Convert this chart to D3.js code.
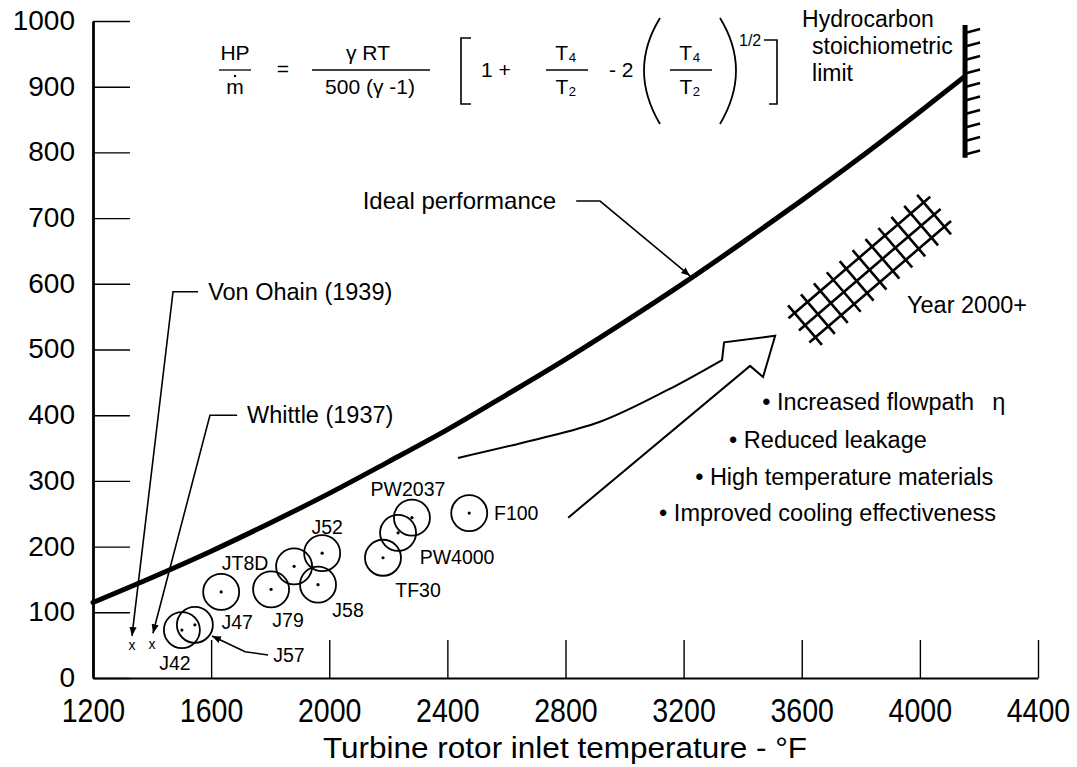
<!DOCTYPE html>
<html>
<head>
<meta charset="utf-8">
<script src="https://cdn.jsdelivr.net/npm/d3@7"></script>
<style>
body { margin: 0; background: #fff; }
svg { display: block; font-family: "Liberation Sans", Arial, Helvetica, sans-serif; }
</style>
</head>
<body>
<script>
// ideal performance curve (HP per lb/s airflow vs turbine rotor inlet temp)
const idealT = [1200, 1400, 1600, 1800, 2000, 2200, 2400, 2600, 2800, 3000, 3200, 3400, 3600, 3800, 4000, 4150];
const idealV = [115, 153, 193, 236, 281, 329, 378, 431, 485, 542, 601, 663, 727, 793, 862, 915];

// engines
const engines = ["J42", "J57", "J47", "J79", "JT8D", "J52", "J58", "TF30", "PW4000", "PW2037", "F100"];
const engT = [1501, 1545, 1634, 1803, 1881, 1976, 1962, 2182, 2233, 2280, 2474];
const engV = [73, 81, 131, 135, 170, 190, 142, 183, 221, 244, 251];

// early demonstrators (x marks)
const pioneers = ["Von Ohain (1939)", "Whittle (1937)"];
const pioT = [1332, 1400];
const pioV = [50, 52];

// hydrocarbon stoichiometric limit
const limitT = 4153;
const limitRange = [792, 994];

// year 2000+ goal band (start and end of band centre)
const goalT = [3611, 4060];
const goalV = [537, 710];

const xTicks = [1200, 1600, 2000, 2400, 2800, 3200, 3600, 4000, 4400];
const yTicks = [0, 100, 200, 300, 400, 500, 600, 700, 800, 900, 1000];

const bullets = ["Increased flowpath", "Reduced leakage", "High temperature materials", "Improved cooling effectiveness"];
const bulletT = [3466, 3354, 3239, 3117];
const bulletV = [420, 362, 306, 251];

const w = 1077, h = 767;

const x = d3.scaleLinear().domain([1200, 4400]).range([93, 1038]);
const y = d3.scaleLinear().domain([0, 1000]).range([678, 21]);

const svg = d3.select("body").append("svg")
  .attr("width", w)
  .attr("height", h);

svg.append("defs").append("marker")
  .attr("id", "ah")
  .attr("viewBox", "0 0 10 10")
  .attr("refX", 10).attr("refY", 5)
  .attr("markerWidth", 9).attr("markerHeight", 9)
  .attr("markerUnits", "userSpaceOnUse")
  .attr("orient", "auto")
  .append("path")
  .attr("d", "M0,1 L10,5 L0,9 Z")
  .attr("fill", "#000");

// axes
const xAxis = d3.axisBottom(x).tickValues(xTicks).tickFormat(d3.format("d"))
  .tickSize(-38).tickSizeOuter(0).tickPadding(20);
const gx = svg.append("g")
  .attr("transform", "translate(0," + y(0) + ")")
  .call(xAxis);
gx.select(".domain").attr("stroke-width", 2.2);
gx.selectAll(".tick line").attr("stroke-width", 1.4);
// condensed look of the original lettering
gx.selectAll(".tick text")
  .attr("font-size", 34)
  .attr("transform", "scale(0.84,1)")
  .attr("fill", "#000");

const yAxis = d3.axisLeft(y).tickValues(yTicks).tickFormat(d3.format("d"))
  .tickSize(-37).tickSizeOuter(0).tickPadding(18);
const gy = svg.append("g")
  .attr("transform", "translate(" + x(1200) + ",0)")
  .call(yAxis);
gy.select(".domain").attr("stroke-width", 2.8);
gy.selectAll(".tick line").attr("stroke-width", 1.4);
gy.selectAll(".tick text")
  .attr("font-size", 28)
  .attr("dy", "0.3em")
  .attr("fill", "#000");

svg.append("g")
  .attr("transform", "translate(565,758) scale(1.05,1)")
  .append("text")
  .attr("text-anchor", "middle")
  .attr("font-size", 30)
  .text("Turbine rotor inlet temperature - \u00b0F");

// ideal curve
const line = d3.line()
  .x((d, i) => x(idealT[i]))
  .y((d, i) => y(d))
  .curve(d3.curveMonotoneX);

svg.append("path")
  .datum(idealV)
  .attr("d", line)
  .attr("fill", "none")
  .attr("stroke", "#000")
  .attr("stroke-width", 5)
  .attr("stroke-linecap", "round");

// stoichiometric limit wall
const lx = x(limitT);
svg.append("line")
  .attr("x1", lx).attr("x2", lx)
  .attr("y1", y(limitRange[0])).attr("y2", y(limitRange[1]))
  .attr("stroke", "#000").attr("stroke-width", 5);
const hatchY = d3.range(10).map(i => y(limitRange[1]) + 8 + i * 13.5);
svg.selectAll(".wall")
  .data(hatchY)
  .enter().append("line")
  .attr("x1", lx).attr("y1", d => d)
  .attr("x2", lx + 15).attr("y2", d => d - 4)
  .attr("stroke", "#000").attr("stroke-width", 2.6);

svg.append("g")
  .attr("font-size", 23)
  .selectAll("text")
  .data(["Hydrocarbon", "stoichiometric", "limit"])
  .enter().append("text")
  .attr("x", (d, i) => i == 0 ? lx - 163 : lx - 153)
  .attr("y", (d, i) => 27 + i * 27)
  .text(d => d);

// year 2000+ band, cross hatched
const p0 = [x(goalT[0]), y(goalV[0])], p1 = [x(goalT[1]), y(goalV[1])];
const len = Math.hypot(p1[0] - p0[0], p1[1] - p0[1]);
const u = [(p1[0] - p0[0]) / len, (p1[1] - p0[1]) / len];
const n = [-u[1], u[0]];
const pt = (s, t) => [p0[0] + u[0] * s + n[0] * t, p0[1] + u[1] * s + n[1] * t];
const hatch = [];
[-16, 0, 16].forEach(t => hatch.push([pt(-8, t), pt(len + 4, t)]));
for (let s = 0; s <= len + 1; s += 17) hatch.push([pt(s, -26), pt(s, 26)]);
svg.selectAll(".goal")
  .data(hatch)
  .enter().append("line")
  .attr("x1", d => d[0][0]).attr("y1", d => d[0][1])
  .attr("x2", d => d[1][0]).attr("y2", d => d[1][1])
  .attr("stroke", "#000").attr("stroke-width", 2.6);

svg.append("text")
  .attr("x", 907).attr("y", y(556))
  .attr("font-size", 23.5)
  .text("Year 2000+");

// big open arrow toward the goal
const upper = [[2436, 335], [2690, 362], [2917, 390], [3144, 438], [3330, 484]];
const lower = [[2809, 244], [3425, 475]];
const head = [[3469, 458], [3510, 521], [3337, 511]];
const arrowPts = lower.concat(head).concat(upper.slice().reverse());
svg.append("path")
  .attr("d", "M" + arrowPts.slice(0, 5).map(p => x(p[0]) + "," + y(p[1])).join("L") +
    d3.line().x(p => x(p[0])).y(p => y(p[1])).curve(d3.curveCatmullRom)(arrowPts.slice(5)).replace("M", "L"))
  .attr("fill", "none")
  .attr("stroke", "#000")
  .attr("stroke-width", 2);

// bullets
const bt = svg.append("g")
  .attr("font-size", 23.5)
  .selectAll("text")
  .data(bullets)
  .enter().append("text")
  .attr("x", (d, i) => x(bulletT[i]))
  .attr("y", (d, i) => y(bulletV[i]) + 8)
  .text(d => "\u2022 " + d);
bt.filter((d, i) => i == 0).append("tspan").attr("dx", 18).text("\u03b7");

// engine circles
const eg = svg.append("g");
eg.selectAll("circle")
  .data(engV)
  .enter().append("circle")
  .attr("cx", (d, i) => x(engT[i]))
  .attr("cy", d => y(d))
  .attr("r", 18)
  .attr("fill", "none")
  .attr("stroke", "#000")
  .attr("stroke-width", 1.8);
eg.selectAll(".dot")
  .data(engV)
  .enter().append("circle")
  .attr("cx", (d, i) => x(engT[i]))
  .attr("cy", d => y(d))
  .attr("r", 1.6)
  .attr("fill", "#000");

const labOff = {
  J42: [-7, 40], J47: [16, 37], J79: [17, 38], JT8D: [-49, 4],
  J52: [5, -19], J58: [30, 32], TF30: [35, 39], PW4000: [59, 31], PW2037: [-4, -22], F100: [47, 7]
};
eg.selectAll("text")
  .data(engines.filter(e => e != "J57"))
  .enter().append("text")
  .attr("x", d => x(engT[engines.indexOf(d)]) + labOff[d][0])
  .attr("y", d => y(engV[engines.indexOf(d)]) + labOff[d][1])
  .attr("text-anchor", "middle")
  .attr("font-size", 19.5)
  .text(d => d);

// leader lines
const leader = (pts, withHead) => {
  svg.append("path")
    .attr("d", d3.line().x(p => x(p[0])).y(p => y(p[1]))(pts))
    .attr("fill", "none")
    .attr("stroke", "#000")
    .attr("stroke-width", 1.6)
    .attr("marker-end", withHead ? "url(#ah)" : null);
};
leader([[1793, 35], [1715, 40], [1603, 64]], true);
svg.append("text").attr("x", x(1810)).attr("y", y(35) + 7).attr("font-size", 19.5).text("J57");

leader([[1556, 588], [1471, 588], [1332, 64]], true);
leader([[1688, 400], [1596, 400], [1403, 68]], true);
leader([[2836, 726], [2917, 726], [3222, 612]], true);

svg.append("text").attr("x", x(1556) + 10).attr("y", y(588) + 8).attr("font-size", 23.5).text(pioneers[0]);
svg.append("text").attr("x", x(1688) + 10).attr("y", y(400) + 8).attr("font-size", 23.5).text(pioneers[1]);
svg.append("text").attr("x", x(2836) - 20).attr("y", y(726) + 8).attr("text-anchor", "end").attr("font-size", 24).text("Ideal performance");

svg.selectAll(".pio")
  .data(pioV)
  .enter().append("text")
  .attr("x", (d, i) => x(pioT[i]))
  .attr("y", d => y(d) + 5)
  .attr("text-anchor", "middle")
  .attr("font-size", 14)
  .text("x");

// formula
const f = svg.append("g").attr("font-size", 21);
const tx = (xx, yy, s, anchor, size) => f.append("text").attr("x", xx).attr("y", yy)
  .attr("text-anchor", anchor || "middle").attr("font-size", size || null).text(s);
const bar = (x1, x2, yy) => f.append("line").attr("x1", x1).attr("x2", x2).attr("y1", yy).attr("y2", yy)
  .attr("stroke", "#000").attr("stroke-width", 1.3);
tx(235, 60, "HP"); bar(219, 251, 70); tx(235, 94, "m"); f.append("circle").attr("cx", 235).attr("cy", 76).attr("r", 1.2);
tx(283, 76, "=");
tx(368, 60, "\u03b3  RT"); bar(312, 430, 70); tx(370, 94, "500 (\u03b3 -1)");
f.append("path").attr("d", "M471,38 H461 V104 H471").attr("fill", "none").attr("stroke", "#000").attr("stroke-width", 1.6);
tx(481, 77, "1 +", "start");
tx(566, 60, "T\u2084"); bar(546, 588, 70); tx(566, 94, "T\u2082");
tx(609, 77, "- 2", "start");
f.append("path").attr("d", "M660,18 Q628,70 660,124").attr("fill", "none").attr("stroke", "#000").attr("stroke-width", 1.8);
tx(690, 60, "T\u2084"); bar(670, 712, 70); tx(690, 94, "T\u2082");
f.append("path").attr("d", "M720,18 Q752,70 720,124").attr("fill", "none").attr("stroke", "#000").attr("stroke-width", 1.8);
tx(739, 46, "1/2", "start", 16);
f.append("path").attr("d", "M764,40 H777 V104 H769").attr("fill", "none").attr("stroke", "#000").attr("stroke-width", 1.6);
</script>
</body>
</html>
